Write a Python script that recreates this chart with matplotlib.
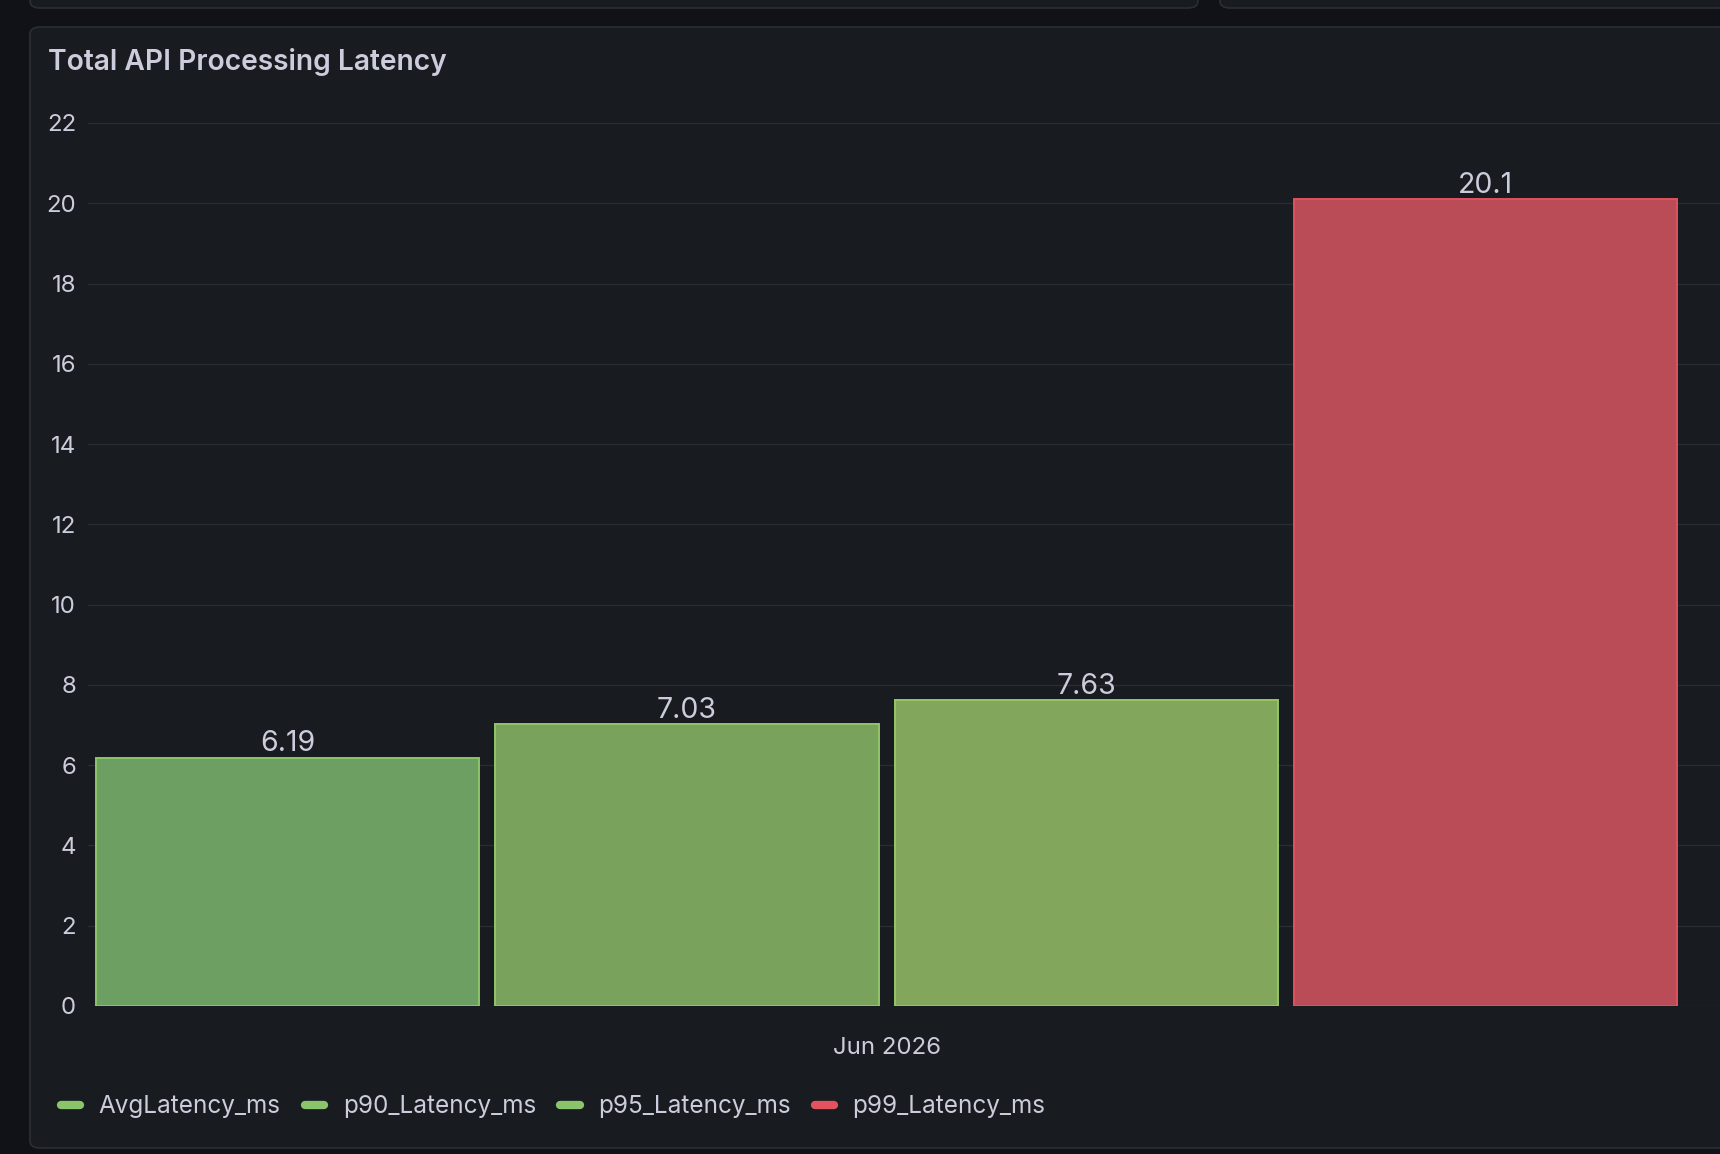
import matplotlib
matplotlib.use("Agg")
import matplotlib.pyplot as plt
from matplotlib.patches import FancyBboxPatch
from matplotlib.lines import Line2D

# data
series = ["AvgLatency_ms", "p90_Latency_ms", "p95_Latency_ms", "p99_Latency_ms"]
values = [6.19, 7.03, 7.63, 20.1]
value_labels = ["6.19", "7.03", "7.63", "20.1"]
group_label = "Jun 2026"
yticks = list(range(0, 23, 2))

# styles
fills = ["#6d9e62", "#79a35c", "#82a65b", "#b94c56"]
edges = ["#8cc46b", "#92c567", "#97c565", "#e2525f"]
legend_colors = ["#8ac56c", "#8ac56c", "#8ac56c", "#e2525f"]
TXT = "#ccccdc"
PANEL = "#181b1f"
OUTER = "#111217"
BORDER = "#2b2e34"
GRID = "#2a2d32"

plt.rcParams["font.family"] = ["Inter", "DejaVu Sans"]

W, H = 1720, 1154
fig = plt.figure(figsize=(W / 100, H / 100), dpi=100, facecolor=OUTER)


def fx(px):
    return px / W


def fy(py):
    return 1 - py / H


# panel backgrounds
for x0, x1, y0, y1 in [(30, 1198, -40, 8), (1220, 1800, -40, 8), (30, 1800, 27, 1148)]:
    p = FancyBboxPatch((fx(x0), fy(y1)), fx(x1) - fx(x0), fy(y0) - fy(y1),
                       boxstyle="round,pad=0,rounding_size=0.006",
                       transform=fig.transFigure, facecolor=PANEL,
                       edgecolor=BORDER, linewidth=1.2, zorder=-5)
    fig.patches.append(p)

fig.text(fx(48), fy(62), "Total API Processing Latency", color=TXT,
         fontsize=20.3, fontweight="semibold", va="center", ha="left")

ax = fig.add_axes([fx(88), fy(1006), 1 - fx(88), (1006 - 123) / H])
ax.set_facecolor("none")
ax.set_zorder(2)

pos = list(range(len(values)))
ax.bar(pos, values, width=0.96, color=fills, edgecolor=edges, linewidth=1.4, zorder=3)

for x, v, lab in zip(pos, values, value_labels):
    ax.annotate(lab, (x, v), xytext=(0, 4.5), textcoords="offset points",
                ha="center", va="baseline", color=TXT, fontsize=20.5, zorder=4)

ax.set_xlim(-0.5, 3.587)
ax.set_ylim(0, 22)
ax.set_yticks(yticks)
ax.set_xticks([1.5])
ax.set_xticklabels([group_label])
ax.tick_params(axis="y", length=0, pad=8.5, labelsize=17.3, labelcolor=TXT)
ax.tick_params(axis="x", length=0, pad=22, labelsize=17.3, labelcolor=TXT)
ax.grid(axis="y", color=GRID, linewidth=0.9, zorder=0)
ax.grid(axis="x", visible=False)
ax.set_axisbelow(True)
for s in ax.spines.values():
    s.set_visible(False)

handles = [Line2D([0], [0], color=c, lw=6, solid_capstyle="round") for c in legend_colors]
leg = fig.legend(handles, series, loc="center left", bbox_to_anchor=(fx(61), fy(1107)),
                 ncol=4, frameon=False, borderaxespad=0, borderpad=0,
                 handlelength=0.8, handletextpad=0.75, columnspacing=1.0,
                 fontsize=17.5, labelcolor=TXT)
leg.set_zorder(3)

fig.savefig("out.png", dpi=100, facecolor=OUTER)
